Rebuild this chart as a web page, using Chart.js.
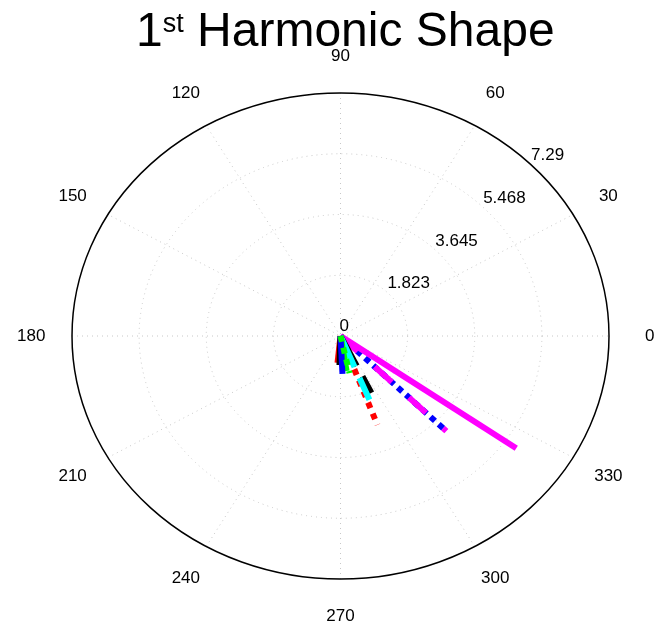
<!DOCTYPE html>
<html>
<head>
<meta charset="utf-8">
<script src="https://cdn.jsdelivr.net/npm/chart.js@4.4.1/dist/chart.umd.min.js"></script>
<style>
	body { margin: 0; background: #fff; }
	#wrap { position: relative; width: 654px; height: 625px; }
	#title {
		position: absolute;
		left: 136px;
		top: 6px;
		font-family: "Liberation Sans", Arial, sans-serif;
		font-size: 48px;
		line-height: 48px;
		white-space: nowrap;
		color: #000;
	}
	#title sup {
		font-size: 27px;
		position: relative;
		top: -14px;
		vertical-align: baseline;
		line-height: 0;
	}
</style>
</head>
<body>
<div id="wrap">
	<canvas id="polarChart" width="654" height="625"></canvas>
	<div id="title">1<sup>st</sup> Harmonic Shape</div>
</div>
<script>
// radial axis
const rMax = 7.29
const ringTicks = [0, 1.823, 3.645, 5.468, 7.29]
const angleTicks = [0, 30, 60, 90, 120, 150, 180, 210, 240, 270, 300, 330]

// harmonic vectors: magnitude and phase (deg)
const magnitudes = [4.05, 4.05, 5.84, 2.85, 1.9, 2.07, 0.81, 0.87, 0.75, 1.06, 1.14, 1.14]
const phases = [-44.8, -44.8, -35.2, -69.4, -63.8, -67.7, -95.7, -91.8, -83.8, -81, -87.3, -77.6]

// styling per vector
const colors = ["#0000ff", "#ff00ff", "#ff00ff", "#ff0000", "#000000", "#00ffff",
	"#ff0000", "#000000", "#ff00ff", "#00ff00", "#0000ff", "#00ff00"]
const dashes = [[6, 5], [23, 23], [], [6, 6], [34, 12], [34, 12],
	[], [], [], [], [], [6, 6]]

const datasets = magnitudes.map((r, i) => {
	const a = phases[i] * Math.PI / 180
	return {
		data: [{ x: 0, y: 0 }, { x: r * Math.cos(a), y: r * Math.sin(a) }],
		showLine: true,
		borderColor: colors[i],
		borderWidth: 6,
		borderDash: dashes[i],
		borderCapStyle: "butt",
		pointRadius: 0,
		order: magnitudes.length - i,
	}
})

const polarGrid = {
	id: "polarGrid",
	beforeDatasetsDraw(chart) {
		const ctx = chart.ctx
		const xs = chart.scales.x
		const ys = chart.scales.y
		const cx = xs.getPixelForValue(0)
		const cy = ys.getPixelForValue(0)
		const px = (x, y) => [xs.getPixelForValue(x), ys.getPixelForValue(y)]
		ctx.save()

		// spokes
		ctx.strokeStyle = "#c8c8c8"
		ctx.lineWidth = 1
		ctx.setLineDash([1, 4])
		for (let d = 0; d < 180; d += 30) {
			const a = d * Math.PI / 180
			const p1 = px(-rMax * Math.cos(a), -rMax * Math.sin(a))
			const p2 = px(rMax * Math.cos(a), rMax * Math.sin(a))
			ctx.beginPath()
			ctx.moveTo(p1[0], p1[1])
			ctx.lineTo(p2[0], p2[1])
			ctx.stroke()
		}
		// rings
		ringTicks.slice(1, -1).forEach((r) => {
			ctx.beginPath()
			ctx.ellipse(cx, cy, xs.getPixelForValue(r) - cx, cy - ys.getPixelForValue(r), 0, 0, Math.PI * 2)
			ctx.stroke()
		})
		// outer boundary
		ctx.setLineDash([])
		ctx.strokeStyle = "#000"
		ctx.lineWidth = 1.5
		ctx.beginPath()
		ctx.ellipse(cx, cy, xs.getPixelForValue(rMax) - cx, cy - ys.getPixelForValue(rMax), 0, 0, Math.PI * 2)
		ctx.stroke()

		// labels
		ctx.fillStyle = "#000"
		ctx.font = '17px "Liberation Sans", Arial, sans-serif'
		ctx.textAlign = "center"
		ctx.textBaseline = "middle"
		angleTicks.forEach((d) => {
			const a = d * Math.PI / 180
			const p = px(1.152 * rMax * Math.cos(a), 1.152 * rMax * Math.sin(a))
			ctx.fillText(String(d), p[0], p[1])
		})
		ctx.textAlign = "left"
		const la = 44.5 * Math.PI / 180
		ringTicks.forEach((r) => {
			const p = px(r * Math.cos(la), r * Math.sin(la) + 0.3)
			ctx.fillText(String(r), p[0] - 1, p[1])
		})
		ctx.restore()
	},
}

new Chart(document.getElementById("polarChart").getContext("2d"), {
	type: "scatter",
	data: { datasets: datasets },
	options: {
		responsive: false,
		animation: false,
		layout: { padding: { left: 72, right: 45, top: 93, bottom: 46 } },
		plugins: { legend: { display: false }, tooltip: { enabled: false } },
		scales: {
			x: { type: "linear", min: -rMax, max: rMax, display: false },
			y: { type: "linear", min: -rMax, max: rMax, display: false },
		},
	},
	plugins: [polarGrid],
})
</script>
</body>
</html>
